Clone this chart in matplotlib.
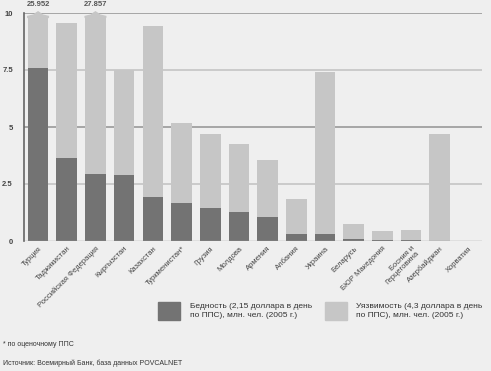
import matplotlib
matplotlib.use("Agg")
import matplotlib.pyplot as plt
from matplotlib.patches import Polygon, Rectangle
import numpy as np

plt.rcParams['font.family'] = ['Liberation Sans Narrow', 'Liberation Sans', 'DejaVu Sans']

countries = ["Турция", "Таджикистан", "Российская Федерация", "Кыргызстан",
             "Казахстан", "Туркменистан*", "Грузия", "Молдова", "Армения",
             "Албания", "Украина", "Беларусь", "БЮР Македония",
             "Босния и\nГерцеговина", "Азербайджан", "Хорватия"]
# vulnerability (4.3$/day), mln people; the two huge ones are clipped at the top
vulnerable = [25.952, 9.56, 27.857, 7.5, 9.43, 5.18, 4.69, 4.25, 3.55,
              1.84, 7.42, 0.75, 0.43, 0.47, 4.69, 0.0]
# poverty (2.15$/day), mln people
poverty = [7.6, 3.64, 2.94, 2.9, 1.93, 1.67, 1.45, 1.27, 1.05,
           0.3, 0.3, 0.08, 0.03, 0.03, 0.0, 0.0]
yticks = [0, 2.5, 5, 7.5, 10]
ytick_labels = ["0", "2.5", "5", "7.5", "10"]
cap = 9.8

dark = "#737373"
light = "#c6c6c6"
bg = "#efefef"

fig = plt.figure(figsize=(4.91, 3.71), dpi=100, facecolor=bg)
ax = fig.add_axes([24/491, 1-241/371, (482-24)/491, (241-13)/371])
ax.set_facecolor(bg)

x = np.arange(len(countries))
w = 0.72
shown = [min(v, cap) for v in vulnerable]
ax.bar(x, shown, width=w, color=light, zorder=3)
ax.bar(x, poverty, width=w, color=dark, zorder=4)

# pointed caps + value labels on truncated bars
for xi, v in zip(x, vulnerable):
    if v > cap:
        tip = cap + 0.25
        ax.add_patch(Polygon([[xi - w/2, cap], [xi - w/2, cap + 0.05],
                              [xi - 0.12, cap + 0.12], [xi - 0.12, cap + 0.15],
                              [xi, tip], [xi + 0.12, cap + 0.15], [xi + 0.12, cap + 0.12],
                              [xi + w/2, cap + 0.05], [xi + w/2, cap]],
                             closed=True, color=light, zorder=3, clip_on=False))
        ax.text(xi, 10.36, f"{v:.3f}", ha="center", va="center", fontsize=5.5,
                color="#555555", fontweight="bold")

for yv in [2.5, 7.5]:
    ax.axhline(yv, color="#c8c8c8", lw=1.3, zorder=1)
for yv in [5, 10]:
    ax.axhline(yv, color="#a0a0a0", lw=1.3, zorder=1)
ax.axhline(0, color="#a0a0a0", lw=1.0, zorder=5)

ax.set_xlim(-0.49, 15.47)
ax.set_ylim(0, 10)
ax.set_yticks(yticks)
ax.set_yticklabels(ytick_labels, fontsize=5.5, color="#444444", fontweight="bold")
ax.tick_params(axis="y", length=0, pad=8)
ax.set_xticks(x)
ax.set_xticklabels(countries, rotation=45, ha="right", rotation_mode="anchor",
                   fontsize=5.5, color="#444444", linespacing=0.9)
ax.tick_params(axis="x", length=0, pad=3)
for s in ["top", "right", "bottom"]:
    ax.spines[s].set_visible(False)
ax.spines["left"].set_color("#666666")
ax.spines["left"].set_linewidth(1.2)
ax.spines["left"].set_zorder(6)

# legend
fig.patches.append(Rectangle((158/491, 1-320/371), 22/491, 18/371,
                             transform=fig.transFigure, color=dark))
fig.text(190/491, 1-311/371, "Бедность (2,15 доллара в день\nпо ППС), млн. чел. (2005 г.)",
         fontsize=6.0, color="#333333", va="center", linespacing=1.3)
fig.patches.append(Rectangle((325/491, 1-320/371), 22/491, 18/371,
                             transform=fig.transFigure, color=light))
fig.text(356/491, 1-311/371, "Уязвимость (4,3 доллара в день\nпо ППС), млн. чел. (2005 г.)",
         fontsize=6.0, color="#333333", va="center", linespacing=1.3)

fig.text(3/491, 1-345/371, "* по оценочному ППС", fontsize=5, color="#333333", va="center")
fig.text(3/491, 1-363/371, "Источник: Всемирный Банк, база данных POVCALNET",
         fontsize=5, color="#333333", va="center")

fig.savefig("out.png", dpi=100, facecolor=bg)
